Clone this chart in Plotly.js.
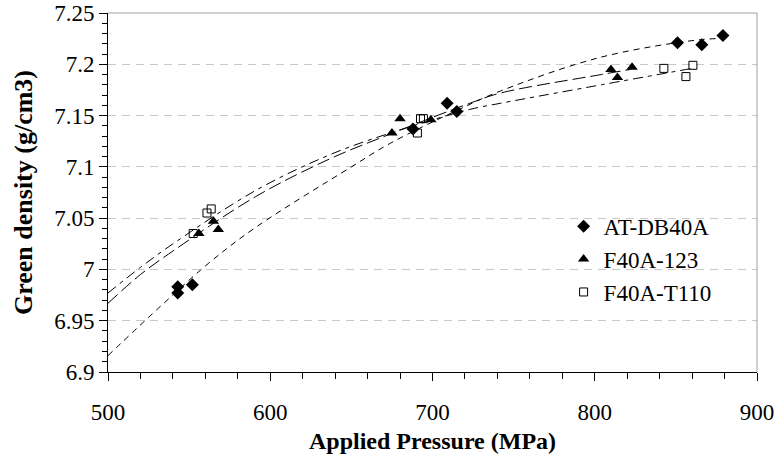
<!DOCTYPE html>
<html>
<head>
<meta charset="utf-8">
<script src="https://cdn.plot.ly/plotly-3.0.1.min.js"></script>
<style>
html,body{margin:0;padding:0;background:#fff;}
#chart{width:778px;height:468px;}
</style>
</head>
<body>
<div id="chart"></div>
<script>
// Measured points
const seriesNames = ["AT-DB40A", "F40A-123", "F40A-T110"];
const atX = [543, 543, 552, 688, 709, 715, 851, 866, 879];
const atY = [6.983, 6.977, 6.985, 7.137, 7.162, 7.154, 7.221, 7.219, 7.228];
const f123X = [556, 565, 568, 675, 680, 699, 810, 814, 823];
const f123Y = [7.035, 7.047, 7.039, 7.133, 7.147, 7.146, 7.195, 7.187, 7.197];
const t110X = [552.5, 561, 563.6, 690.7, 692.6, 694.4, 842.6, 856.2, 860.5];
const t110Y = [7.035, 7.055, 7.059, 7.133, 7.147, 7.147, 7.196, 7.188, 7.199];

// Trend lines
const atTrendX = [500, 533, 562, 591, 650, 674, 715, 742, 804, 865, 880];
const atTrendY = [6.916, 6.965, 7.006, 7.041, 7.100, 7.123, 7.155, 7.174, 7.207, 7.224, 7.225];
const f123TrendX = [500, 520, 541, 591, 637, 674, 723, 742, 804, 822];
const f123TrendY = [6.967, 6.995, 7.019, 7.071, 7.108, 7.132, 7.162, 7.172, 7.190, 7.195];
const t110TrendX = [500, 520, 541, 591, 637, 674, 723, 742, 804, 860];
const t110TrendY = [6.977, 7.002, 7.026, 7.077, 7.112, 7.133, 7.156, 7.162, 7.180, 7.196];

const fontFam = "Liberation Serif";

const traces = [
  {x: atTrendX, y: atTrendY, mode: 'lines', line: {shape: 'spline', color: '#000', width: 1, dash: '6px,5px'}, showlegend: false, hoverinfo: 'skip'},
  {x: f123TrendX, y: f123TrendY, mode: 'lines', line: {shape: 'spline', color: '#000', width: 1, dash: '13px,5px'}, showlegend: false, hoverinfo: 'skip'},
  {x: t110TrendX, y: t110TrendY, mode: 'lines', line: {shape: 'spline', color: '#000', width: 1, dash: '10px,5px,4px,5px'}, showlegend: false, hoverinfo: 'skip'},
  {x: atX, y: atY, name: seriesNames[0], mode: 'markers', marker: {symbol: 'diamond', size: 10, color: '#000'}},
  {x: f123X, y: f123Y, name: seriesNames[1], mode: 'markers', marker: {symbol: 'triangle-up', size: 10, color: '#000'}},
  {x: t110X, y: t110Y, name: seriesNames[2], mode: 'markers', marker: {symbol: 'square-open', size: 8, color: '#000', line: {width: 1, color: '#000'}}}
];

const layout = {
  width: 778, height: 468,
  margin: {l: 108, r: 21, t: 13, b: 96},
  paper_bgcolor: '#fff', plot_bgcolor: '#fff',
  font: {family: fontFam, color: '#000', size: 23},
  showlegend: true,
  legend: {x: 0.702, y: 0.466, xanchor: 'left', yanchor: 'top', bgcolor: 'rgba(0,0,0,0)', font: {family: fontFam, size: 23}, tracegroupgap: 0},
  xaxis: {
    range: [500, 900], dtick: 100, tick0: 500,
    showline: true, linecolor: '#000', linewidth: 1,
    ticks: 'outside', ticklen: 8, tickcolor: '#000', tickwidth: 1,
    minor: {dtick: 20, ticks: 'outside', ticklen: 6, tickcolor: '#000', showgrid: false},
    showgrid: false, zeroline: false,
    ticklabelstandoff: 11,
    tickfont: {family: fontFam, size: 23},
    title: {text: '<b>Applied Pressure (MPa)</b>', font: {family: fontFam, size: 24}, standoff: 8}
  },
  yaxis: {
    range: [6.9, 7.25], dtick: 0.05, tick0: 6.9,
    showline: true, linecolor: '#000', linewidth: 1,
    ticks: 'outside', ticklen: 8, tickcolor: '#000', tickwidth: 1,
    minor: {dtick: 0.01, ticks: 'outside', ticklen: 5, tickcolor: '#000', showgrid: false},
    showgrid: true, gridcolor: '#c8c8c8', griddash: '8px,6px', gridwidth: 1,
    zeroline: false,
    tickfont: {family: fontFam, size: 23},
    title: {text: '<b>Green density (g/cm3)</b>', font: {family: fontFam, size: 26}, standoff: 14}
  },
  shapes: [
    {type: 'line', xref: 'paper', yref: 'paper', x0: 0, x1: 1, y0: 1, y1: 1, line: {color: '#a0a0a0', width: 1}},
    {type: 'line', xref: 'paper', yref: 'paper', x0: 1, x1: 1, y0: 0, y1: 1, line: {color: '#a0a0a0', width: 1}}
  ]
};

Plotly.newPlot('chart', traces, layout, {staticPlot: true, displayModeBar: false});
</script>
</body>
</html>
